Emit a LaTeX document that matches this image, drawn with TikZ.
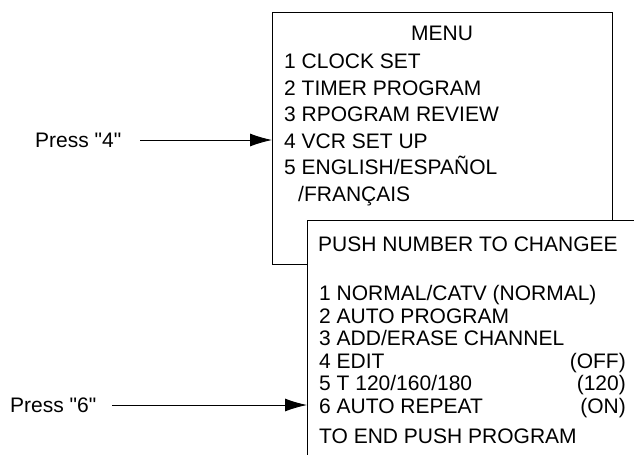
\documentclass[tikz,border=0pt]{standalone}
\usepackage{fontspec}
\newfontfamily\lsans{Liberation Sans}
\usetikzlibrary{arrows.meta}
\begin{document}
\begin{tikzpicture}[x=1pt,y=-1pt,
  txt/.style={anchor=base west,inner sep=0pt,font=\lsans\fontsize{21}{21}\selectfont},
  rtxt/.style={anchor=base east,inner sep=0pt,font=\lsans\fontsize{21}{21}\selectfont},
  frame/.style={line width=1pt},
  pointer/.style={line width=0.9pt,-{Latex[length=22pt,width=13pt]}}]
\useasboundingbox[fill=white] (0,0) rectangle (634,467);
% menu box
\draw[frame] (307,264) -- (272,264) -- (272,12) -- (612,12) -- (612,220);
\node[anchor=base,inner sep=0pt,font=\lsans\fontsize{21}{21}\selectfont] (menu) at (442,40.5) {MENU};
\node[txt] (m1) at (284,68.5) {1 CLOCK SET};
\node[txt] (m2) at (284,95) {2 TIMER PROGRAM};
\node[txt] (m3) at (284,121.5) {3 RPOGRAM REVIEW};
\node[txt] (m4) at (284,148) {4 VCR SET UP};
\node[txt] (m5) at (284,174.5) {5 ENGLISH/ESPAÑOL};
\node[txt] (m6) at (298,201) {/FRANÇAIS};
% second box
\draw[frame] (634,220) -- (307,220) -- (307,455);
\node[txt] (p0) at (318,251) {PUSH NUMBER TO CHANGEE};
\node[txt] (p1) at (319,300.5) {1 NORMAL/CATV (NORMAL)};
\node[txt] (p2) at (319,323) {2 AUTO PROGRAM};
\node[txt] (p3) at (319,345.5) {3 ADD/ERASE CHANNEL};
\node[txt] (p4) at (319,368) {4 EDIT};
\node[txt] (p5) at (319,390.5) {5 T 120/160/180};
\node[txt] (p6) at (319,413) {6 AUTO REPEAT};
\node[rtxt] (v4) at (626,368) {(OFF)};
\node[rtxt] (v5) at (626,390.5) {(120)};
\node[rtxt] (v6) at (626,413) {(ON)};
\node[txt] (p7) at (319,443) {TO END PUSH PROGRAM};
% labels and arrows
\node[txt] (l4) at (35,147.5) {Press "4"};
\node[txt] (l6) at (10,412.5) {Press "6"};
\coordinate (a4s) at (140,140);
\coordinate (a4e) at (272,140);
\coordinate (a6s) at (112,405);
\coordinate (a6e) at (307,405);
\draw[pointer] (a4s) -- (a4e);
\draw[pointer] (a6s) -- (a6e);
\end{tikzpicture}
\end{document}
